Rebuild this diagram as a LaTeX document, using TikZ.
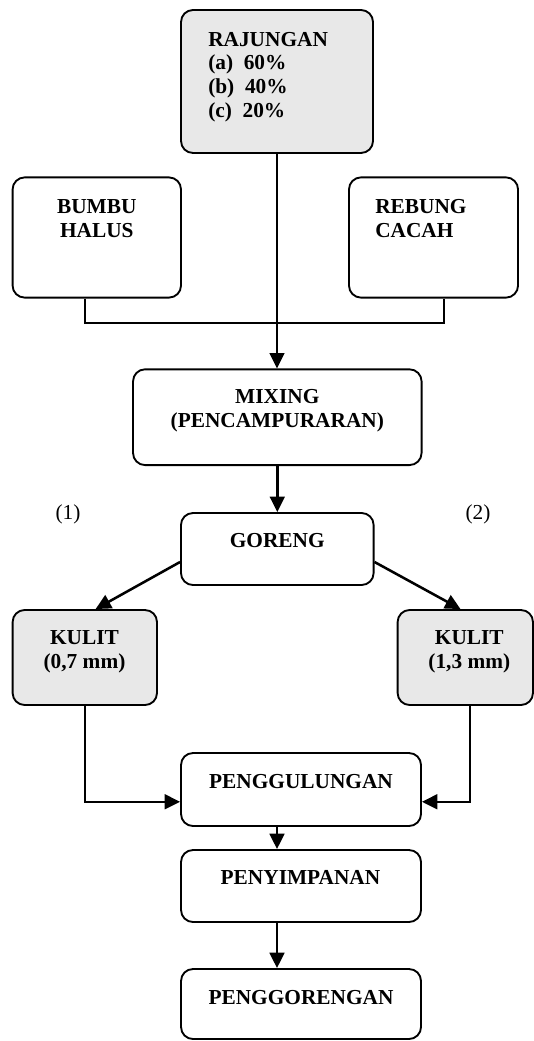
\documentclass[tikz,border=0pt]{standalone}
\usepackage{fontspec}
\setmainfont{Liberation Serif}
\usetikzlibrary{arrows.meta}

\begin{document}
\begin{tikzpicture}[
        x=0.75pt, y=-0.75pt,
        stagebox/.style={
            rectangle,
            rounded corners=9pt,
            draw=black,
            line width=1.4pt,
            fill=white,
            inner sep=0pt
        },
        greybox/.style={
            stagebox,
            fill=black!9
        },
        btext/.style={
            inner sep=0pt,
            font=\fontsize{16}{17.7}\selectfont\bfseries
        },
        ntext/.style={
            inner sep=0pt,
            font=\fontsize{16}{17.7}\selectfont
        },
        arrow/.style={
            line width=1.9pt,
            -{Triangle[length=11.5pt, width=11pt]}
        },
        link/.style={
            line width=1.4pt
        }
        ]

        \useasboundingbox (0,0) rectangle (534,1041);

        % boxes
        \node (raj) [greybox, minimum width=144pt, minimum height=107.25pt] at (277,81.5) {};
        \node (bumbu) [stagebox, minimum width=126.3pt, minimum height=90.15pt] at (96.8,237.5) {};
        \node (rebung) [stagebox, minimum width=126.8pt, minimum height=90.15pt] at (433.5,237.5) {};
        \node (mixing) [stagebox, minimum width=216.4pt, minimum height=71.8pt] at (277.3,417.2) {};
        \node (goreng) [stagebox, minimum width=144.5pt, minimum height=54pt] at (277.3,549) {};
        \node (kulitA) [greybox, minimum width=108.3pt, minimum height=71.25pt] at (84.8,657.5) {};
        \node (kulitB) [greybox, minimum width=101.5pt, minimum height=71.25pt] at (465.3,657.5) {};
        \node (gulung) [stagebox, minimum width=180pt, minimum height=54.75pt] at (301,789.5) {};
        \node (simpan) [stagebox, minimum width=180pt, minimum height=54pt] at (301,886) {};
        \node (gorengan) [stagebox, minimum width=180pt, minimum height=52.5pt] at (301,1004) {};

        % connectors
        \draw [link] ([xshift=-8.9pt]bumbu.south) -- ++(0,24.3) -| ([xshift=7.9pt]rebung.south);
        \draw [arrow] (raj.south) -- (raj.south |- mixing.north);
        \draw [arrow] (mixing.south) -- (goreng.north);
        \draw [arrow] ([yshift=-9.75pt]goreng.west) -- ([xshift=8.1pt]kulitA.north);
        \draw [arrow] ([yshift=-9.75pt]goreng.east) -- ([xshift=-3.6pt]kulitB.north);
        \draw [arrow] (kulitA.south) |- ([yshift=-9.2pt]gulung.west);
        \draw [arrow] ([xshift=3.5pt]kulitB.south) |- ([yshift=-9.2pt]gulung.east);
        \draw [arrow] ([xshift=-18pt]gulung.south) -- ([xshift=-18pt]simpan.north);
        \draw [arrow] ([xshift=-18pt]simpan.south) -- ([xshift=-18pt]gorengan.north);

        % texts
        \node (rajtxt) [btext, anchor=north west, align=left] at (208,32) {RAJUNGAN\\(a)~~60\%\\(b)~~40\%\\(c)~~20\%};
        \node (bumbutxt) [btext, anchor=north, align=center] at (96.8,199.6) {BUMBU\\HALUS};
        \node (rebungtxt) [btext, anchor=north west, align=left] at (375,199.6) {REBUNG\\CACAH};
        \node (mixingtxt) [btext, anchor=north, align=center] at (277.3,389.6) {MIXING\\(PENCAMPURARAN)};
        \node (gorengtxt) [btext, anchor=base] at (277.3,547.7) {GORENG};
        \node (num1) [ntext, anchor=base] at (68,519.3) {(1)};
        \node (num2) [ntext, anchor=base] at (478,519.3) {(2)};
        \node (kulitAtxt) [btext, anchor=north, align=center] at (84.5,630.3) {KULIT\\(0,7 mm)};
        \node (kulitBtxt) [btext, anchor=north, align=center] at (469.3,630.3) {KULIT\\(1,3 mm)};
        \node (gulungtxt) [btext, anchor=base] at (301,788) {PENGGULUNGAN};
        \node (simpantxt) [btext, anchor=base] at (300.5,884) {PENYIMPANAN};
        \node (gorengantxt) [btext, anchor=base] at (301,1004) {PENGGORENGAN};

    \end{tikzpicture}
\end{document}
